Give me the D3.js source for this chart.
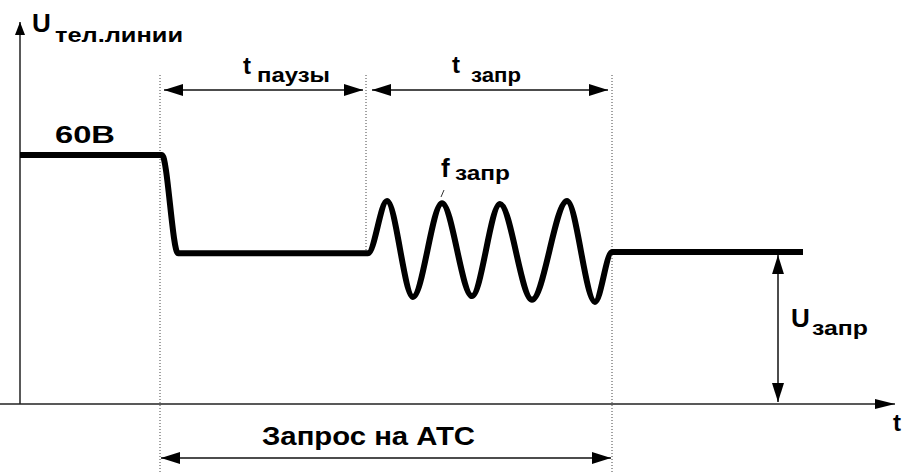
<!DOCTYPE html>
<html>
<head>
<meta charset="utf-8">
<script src="https://cdn.jsdelivr.net/npm/d3@7/dist/d3.min.js"></script>
<style>
  body { margin: 0; background: #fff; }
  svg { display: block; font-family: "Liberation Sans", Arial, sans-serif; }
</style>
</head>
<body>
<div id="chart"></div>
<script>
// line voltage over time (t in arbitrary units, U in volts)
const signalT = [0, 28.4, 31.6, 69.6, 73.4, 78.6, 84.4, 90.4, 96, 102.4, 109.4, 115, 118.4, 156.6];
const signalU = [60, 60, 36.3, 36.3, 48.9, 25.8, 48.4, 26.0, 48.2, 25.1, 48.9, 24.6, 36.6, 36.6];

// phase boundaries: start of pause, start of request, end of request
const phaseT = [28, 69.2, 118.4];
const phaseNames = ["паузы", "запр"];
const levelLabel = "60В";
const requestLabel = "Запрос на АТС";
const uZaprT = 151.6;

let width = 902, height = 474;
let svg = d3.select("#chart").append("svg")
    .attr("width", width)
    .attr("height", height);

let x = d3.scaleLinear().domain([0, 175]).range([20, 895]);
let y = d3.scaleLinear().domain([0, 60]).range([404, 155]);

// arrow heads
let defs = svg.append("defs");
function addMarker(id, len, wid) {
    defs.append("marker")
        .attr("id", id)
        .attr("viewBox", "0 0 " + len + " " + wid)
        .attr("refX", len).attr("refY", wid / 2)
        .attr("markerWidth", len).attr("markerHeight", wid)
        .attr("markerUnits", "userSpaceOnUse")
        .attr("orient", "auto-start-reverse")
        .append("path")
        .attr("d", "M0,0 L" + len + "," + wid / 2 + " L0," + wid + " Z")
        .attr("fill", "#000");
}
addMarker("dim", 19, 12);
addMarker("ax", 20, 10);
addMarker("axy", 13, 10);

// dotted guides
let guideBottom = [474, 252, 474];
svg.selectAll(".guide").data(phaseT).enter().append("line")
    .attr("class", "guide")
    .attr("x1", d => x(d)).attr("x2", d => x(d))
    .attr("y1", 75)
    .attr("y2", (d, i) => guideBottom[i])
    .attr("stroke", "#444")
    .attr("stroke-width", 1)
    .attr("stroke-dasharray", "1,2");

// axes
svg.append("line")
    .attr("x1", x(0)).attr("x2", x(0))
    .attr("y1", y(0)).attr("y2", 22)
    .attr("stroke", "#222").attr("stroke-width", 1.5)
    .attr("marker-end", "url(#axy)");
svg.append("line")
    .attr("x1", 0).attr("x2", 895)
    .attr("y1", y(0)).attr("y2", y(0))
    .attr("stroke", "#222").attr("stroke-width", 1.5)
    .attr("marker-end", "url(#ax)");

// signal
let line = d3.line()
    .x(d => x(d[0]))
    .y(d => y(d[1]))
    .curve(d3.curveMonotoneX);
svg.append("path")
    .datum(d3.zip(signalT, signalU))
    .attr("d", line)
    .attr("fill", "none")
    .attr("stroke", "#000")
    .attr("stroke-width", 6)
    .attr("stroke-linejoin", "round");

// dimension arrows
function dim(x1, y1, x2, y2) {
    svg.append("line")
        .attr("x1", x1).attr("y1", y1).attr("x2", x2).attr("y2", y2)
        .attr("stroke", "#111").attr("stroke-width", 1.5)
        .attr("marker-start", "url(#dim)")
        .attr("marker-end", "url(#dim)");
}
dim(x(phaseT[0]) + 4, 90, x(phaseT[1]) - 3, 90);
dim(x(phaseT[1]) + 6, 90, x(phaseT[2]) - 4, 90);
dim(x(phaseT[0]) + 1, 458, x(phaseT[2]) - 1, 458);
dim(x(uZaprT), y(signalU[signalU.length - 1]) + 3, x(uZaprT), y(0) - 2);

// small leader from f label to the second peak
svg.append("line")
    .attr("x1", x(signalT[6]) + 2).attr("y1", 190)
    .attr("x2", x(signalT[6]) - 1).attr("y2", 197)
    .attr("stroke", "#333").attr("stroke-width", 1);

// labels: main letter + subscript
function label(main, sub, mx, my, sx, sy, mSize, sSize, sLen) {
    svg.append("text")
        .attr("x", mx).attr("y", my)
        .attr("font-size", mSize)
        .attr("font-weight", "bold")
        .text(main);
    let s = svg.append("text")
        .attr("x", sx).attr("y", sy)
        .attr("font-size", sSize)
        .attr("font-weight", "bold")
        .text(sub);
    if (sLen) s.attr("textLength", sLen).attr("lengthAdjust", "spacingAndGlyphs");
}
label("U", "тел.линии", x(0) + 12, 32, x(0) + 35, 42, 26, 21, 128);
label("t", phaseNames[0], x(phaseT[0]) + 83, 74, x(phaseT[0]) + 97, 82, 24, 20, 73);
label("t", phaseNames[1], x(phaseT[1]) + 86, 73, x(phaseT[1]) + 105, 82, 24, 20, 50);
label("f", phaseNames[1], 441, 177, 455, 180, 26, 20, 55);
label("U", phaseNames[1], x(uZaprT) + 13, 327, x(uZaprT) + 34, 335, 26, 20, 56);

svg.append("text")
    .attr("x", 55).attr("y", 143)
    .attr("font-size", 23)
    .attr("font-weight", "bold")
    .attr("textLength", 60).attr("lengthAdjust", "spacingAndGlyphs")
    .text(levelLabel);

svg.append("text")
    .attr("x", 262).attr("y", 445)
    .attr("font-size", 25)
    .attr("font-weight", "bold")
    .attr("textLength", 213).attr("lengthAdjust", "spacingAndGlyphs")
    .text(requestLabel);

svg.append("text")
    .attr("x", 893).attr("y", 431)
    .attr("font-size", 24)
    .attr("font-weight", "bold")
    .text("t");
</script>
</body>
</html>
